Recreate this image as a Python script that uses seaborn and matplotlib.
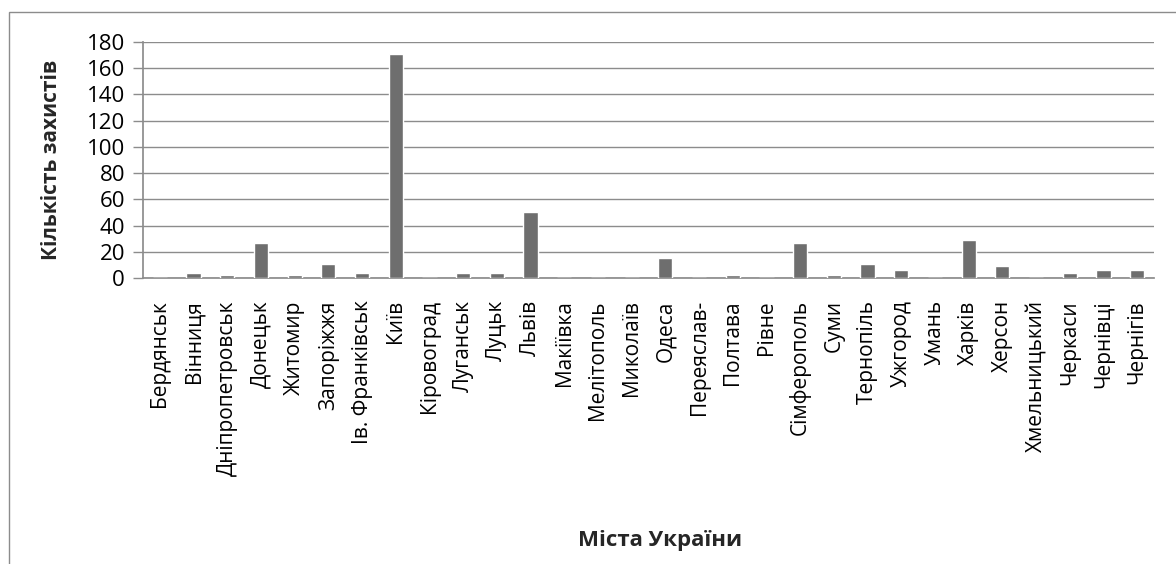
import matplotlib
matplotlib.use('Agg')
import matplotlib.pyplot as plt
import seaborn as sns
import pandas as pd
from matplotlib.patches import Rectangle

# Cities and number of defences
cities = ['Бердянськ', 'Вінниця', 'Дніпропетровськ', 'Донецьк', 'Житомир',
          'Запоріжжя', 'Ів. Франківськ', 'Київ', 'Кіровоград', 'Луганськ',
          'Луцьк', 'Львів', 'Макіївка', 'Мелітополь', 'Миколаїв', 'Одеса',
          'Переяслав-', 'Полтава', 'Рівне', 'Сімферополь', 'Суми',
          'Тернопіль', 'Ужгород', 'Умань', 'Харків', 'Херсон',
          'Хмельницький', 'Черкаси', 'Чернівці', 'Чернігів']
defences = [0.3, 4, 2, 27, 2, 11, 4, 171, 0.3, 4,
            4, 50, 0.3, 0.3, 0.3, 15, 0.3, 2, 0.3, 27,
            2, 11, 6, 0.3, 29, 9, 0.3, 4, 6, 6]
y_ticks = list(range(0, 181, 20))

df = pd.DataFrame({'city': cities, 'count': defences})

sns.set_theme(style='white')
plt.rcParams['font.family'] = ['Open Sans', 'DejaVu Sans']

fig, ax = plt.subplots(figsize=(11.76, 5.64), dpi=100)
fig.subplots_adjust(left=143 / 1176, right=1154 / 1176,
                    top=1 - 42 / 564, bottom=1 - 278 / 564)

sns.barplot(data=df, x='city', y='count', color='#6e6e6e', saturation=1,
            width=0.42, ax=ax, zorder=3)

ax.set_ylim(0, 180)
ax.set_yticks(y_ticks)
ax.set_xlim(-0.5, len(cities) - 0.5)
ax.yaxis.grid(True, color='#8c8c8c', linewidth=1, zorder=0)
ax.xaxis.grid(False)

for side in ['top', 'right']:
    ax.spines[side].set_visible(False)
ax.spines['left'].set_color('#8c8c8c')
ax.spines['bottom'].set_color('#8c8c8c')

ax.tick_params(axis='y', which='major', left=True, length=7, width=1,
               color='#8c8c8c', pad=6, labelsize=16, labelcolor='black')
ax.tick_params(axis='x', bottom=False, pad=10, labelcolor='black')
plt.setp(ax.get_xticklabels(), rotation=90, ha='center', va='top',
         fontsize=15)

ax.set_xlabel('Міста України', fontsize=16, fontweight='bold')
ax.set_ylabel('Кількість захистів', fontsize=15, fontweight='bold')
ax.yaxis.set_label_coords(-0.080, 0.5)
ax.xaxis.set_label_coords(0.511, -1.068)

# chart area outline
fig.patches.append(Rectangle((9 / 1176, -0.1), 1.2, 1.1 - 12 / 564,
                             transform=fig.transFigure, fill=False,
                             edgecolor='#8c8c8c', linewidth=1))

fig.savefig('out.png', dpi=100)
